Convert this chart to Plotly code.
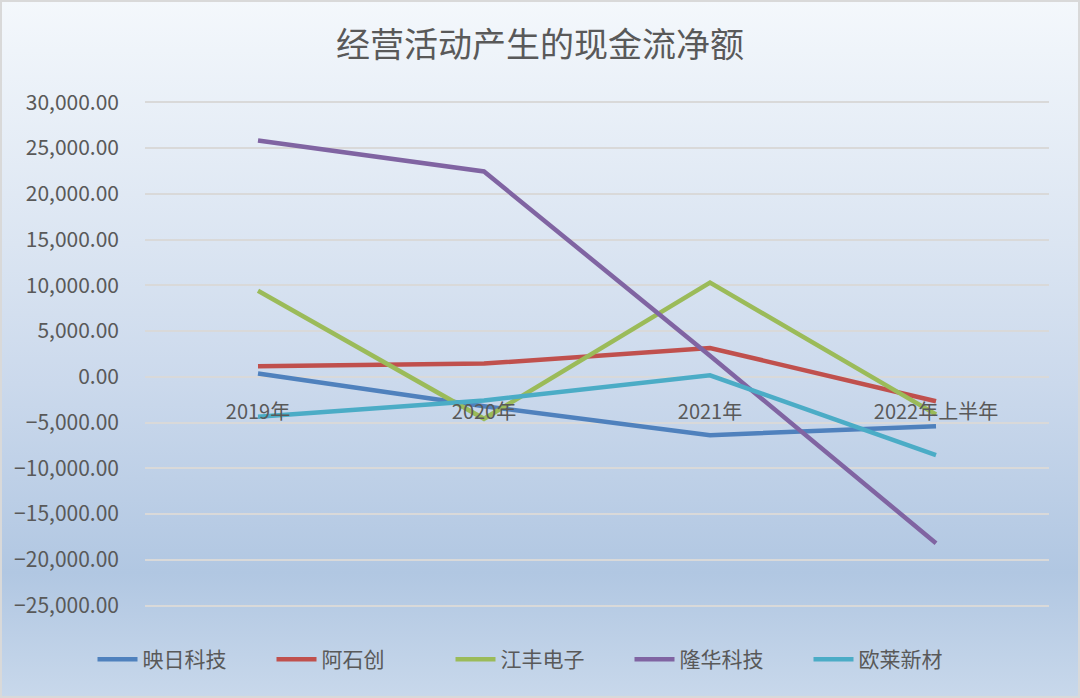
""" Line chart of operating cash flow for five companies """
import base64
import plotly.graph_objects as go

# data
categories = ["2019年", "2020年", "2021年", "2022年上半年"]
yingri = [360, -3200, -6370, -5390]
ashichuang = [1160, 1450, 3160, -2660]
jiangfeng = [9410, -4580, 10300, -4100]
longhua = [25830, 22450, 2300, -18180]
oulai = [-4360, -2580, 170, -8550]

series_names = ["映日科技", "阿石创", "江丰电子", "隆华科技", "欧莱新材"]
series_values = [yingri, ashichuang, jiangfeng, longhua, oulai]
colors = ["#4F81BD", "#C0504D", "#9BBB59", "#8064A2", "#4BACC6"]

y_ticks = list(range(-25000, 30001, 5000))
# a bit of padding so the outer gridlines are still drawn
y_range = [-25150, 30150]

W, H = 1080, 698
M_L, M_R, M_T, M_B = 145, 31, 101, 91
plot_w = W - M_L - M_R
plot_h = H - M_T - M_B

FONT = "Noto Sans CJK SC"
TEXT_COLOR = "#595959"

fig = go.Figure()
for name, vals, col in zip(series_names, series_values, colors):
    fig.add_trace(go.Scatter(
        x=categories, y=vals, name=name, mode="lines",
        line=dict(color=col, width=4.5),
    ))

# background gradient as an svg image stretched over the whole figure
svg = (
    '<svg xmlns="http://www.w3.org/2000/svg" width="100" height="100" preserveAspectRatio="none">'
    '<defs><linearGradient id="g" x1="0" y1="0" x2="0" y2="1">'
    '<stop offset="0" stop-color="#f4f8fc"/>'
    '<stop offset="0.35" stop-color="#dbe5f2"/>'
    '<stop offset="0.55" stop-color="#cbd9ec"/>'
    '<stop offset="0.82" stop-color="#b1c7e2"/>'
    '<stop offset="1" stop-color="#c8d8eb"/>'
    '</linearGradient></defs>'
    '<rect width="100" height="100" fill="url(#g)"/></svg>'
)
svg_uri = "data:image/svg+xml;base64," + base64.b64encode(svg.encode()).decode()
fig.add_layout_image(
    source=svg_uri, xref="paper", yref="paper",
    x=-M_L / plot_w, y=1 + M_T / plot_h,
    sizex=W / plot_w, sizey=H / plot_h,
    xanchor="left", yanchor="top", sizing="stretch", layer="below",
)

# thin grey frame around the chart
fig.add_shape(
    type="rect", xref="paper", yref="paper",
    x0=-(M_L - 1) / plot_w, x1=1 + (M_R - 1) / plot_w,
    y0=-(M_B - 1) / plot_h, y1=1 + (M_T - 1) / plot_h,
    line=dict(color="#d9d9d9", width=2), layer="above",
)

fig.update_layout(
    width=W, height=H,
    margin=dict(l=M_L, r=M_R, t=M_T, b=M_B, autoexpand=False),
    paper_bgcolor="#d2deee",
    plot_bgcolor="rgba(0,0,0,0)",
    font=dict(family=FONT, color=TEXT_COLOR, size=19),
    title=dict(
        text="经营活动产生的现金流净额",
        x=0.5, xanchor="center", y=0.935, yanchor="middle",
        font=dict(size=34, color=TEXT_COLOR, family=FONT),
    ),
    showlegend=True,
    legend=dict(
        orientation="h", xref="container", x=0.5, xanchor="center",
        yref="container", y=0.055, yanchor="middle",
        font=dict(size=21, color=TEXT_COLOR),
        entrywidth=124, bgcolor="rgba(0,0,0,0)",
        itemwidth=40,
    ),
)

# category labels sit right under the zero line
fig.update_xaxes(
    type="category", range=[-0.5, 3.5],
    anchor="free", position=-y_range[0] / (y_range[1] - y_range[0]),
    showgrid=False, showline=False, zeroline=False,
    ticks="", ticklabelstandoff=21, automargin=False,
    tickfont=dict(size=20, color=TEXT_COLOR),
)
fig.update_yaxes(
    range=y_range,
    tickvals=y_ticks, tickformat=",.2f",
    showgrid=True, gridcolor="#d9d9d9", gridwidth=1.5,
    zeroline=False, showline=False,
    ticks="", ticklabelstandoff=25, automargin=False,
    tickfont=dict(size=21, color=TEXT_COLOR),
)

# drop the browser's default page margin so the chart fills the window
fig.write_html(
    "out.html",
    config={"displayModeBar": False},
    post_script="document.body.style.margin='0';",
)
